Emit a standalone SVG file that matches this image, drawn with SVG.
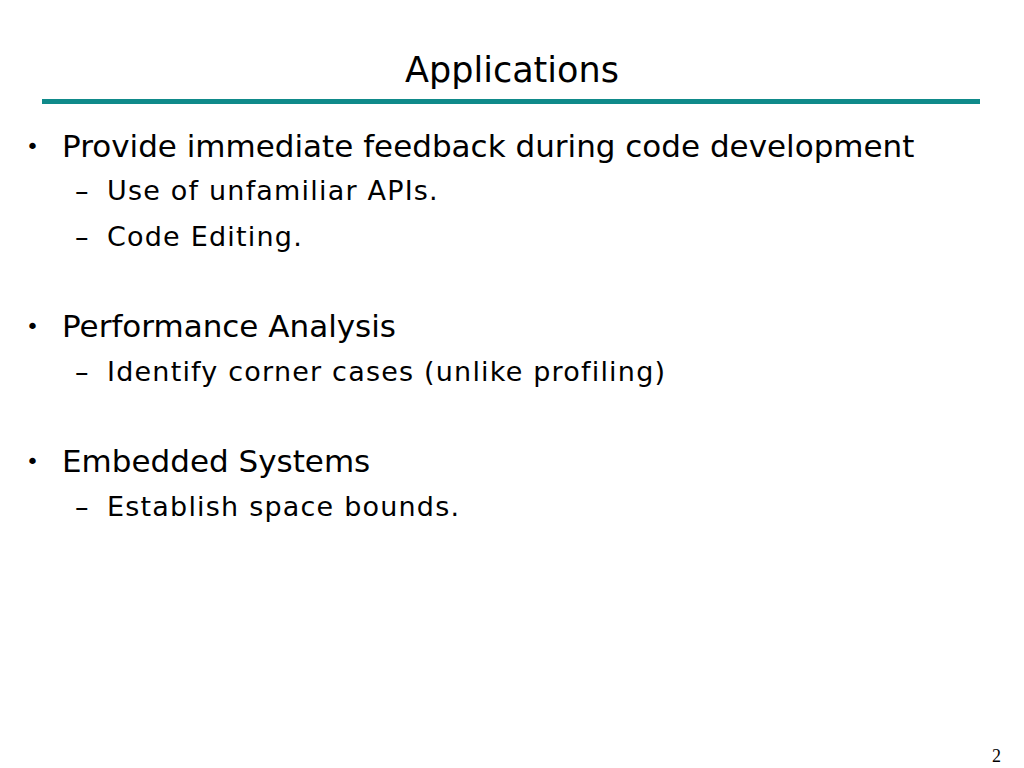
<svg xmlns="http://www.w3.org/2000/svg" width="1024" height="768" viewBox="0 0 1024 768">
<style>
text{font-family:"DejaVu Sans","Noto Sans",sans-serif;fill:#000}
.t{font-size:35px}
.b{font-size:31px}
.s{font-size:27px;letter-spacing:1.2px}
.d{font-size:22px}
</style>
<rect width="1024" height="768" fill="#fff"/>
<text class="t" x="512" y="82" text-anchor="middle">Applications</text>
<rect x="42" y="99" width="938" height="5" fill="#0f8a8a"/>
<g class="d">
<text x="26" y="154">•</text>
<text x="26" y="334">•</text>
<text x="26" y="469">•</text>
</g>
<g class="b">
<text x="62" y="157">Provide immediate feedback during code development</text>
<text x="62" y="337">Performance Analysis</text>
<text x="62" y="472">Embedded Systems</text>
</g>
<g class="s">
<text x="75" y="200">–</text><text x="107" y="200">Use of unfamiliar APIs.</text>
<text x="75" y="246">–</text><text x="107" y="246">Code Editing.</text>
<text x="75" y="381">–</text><text x="107" y="381">Identify corner cases (unlike profiling)</text>
<text x="75" y="516">–</text><text x="107" y="516">Establish space bounds.</text>
</g>
<text x="1001" y="762" text-anchor="end" style="font-family:'Liberation Serif',serif;font-size:18px">2</text>
</svg>
